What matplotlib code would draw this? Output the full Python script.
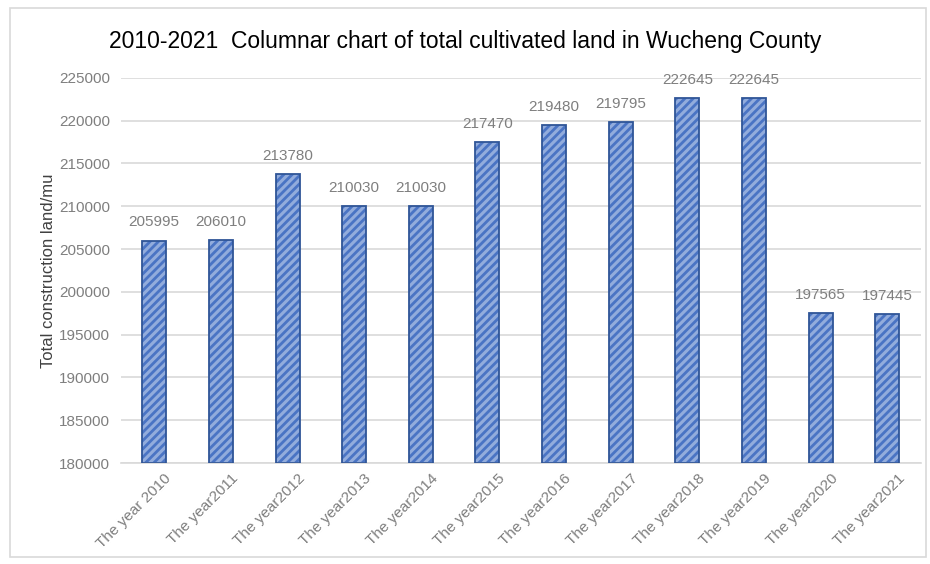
import matplotlib.pyplot as plt
from matplotlib.patches import Rectangle
from matplotlib.transforms import ScaledTranslation

years = ["The year 2010", "The year2011", "The year2012", "The year2013",
         "The year2014", "The year2015", "The year2016", "The year2017",
         "The year2018", "The year2019", "The year2020", "The year2021"]
land = [205995, 206010, 213780, 210030, 210030, 217470,
        219480, 219795, 222645, 222645, 197565, 197445]
yticks = list(range(180000, 225001, 5000))

plt.rcParams["font.family"] = ["Liberation Sans", "DejaVu Sans"]
plt.rcParams["hatch.linewidth"] = 2.0

fig = plt.figure(figsize=(9.3, 5.64), dpi=100)
ax = fig.add_axes([0.130, 0.179, 0.860, 0.683])

# outer chart border
fig.patches.append(Rectangle((0.011, 0.012), 0.985, 0.974, transform=fig.transFigure,
                             fill=False, edgecolor="#d9d9d9", linewidth=1.2))

x = list(range(len(years)))
# hatched fill (stripe colour via edgecolor), then outline on top
ax.bar(x, [v - 180000 for v in land], bottom=180000, width=0.36,
       color="#92acdc", edgecolor="#4a74c4", hatch="////", linewidth=0, zorder=2)
ax.bar(x, [v - 180000 for v in land], bottom=180000, width=0.36,
       fill=False, edgecolor="#2f5597", linewidth=1.3, zorder=3)

for xi, v in zip(x, land):
    ax.text(xi, v + 1300, str(v), ha="center", va="bottom", fontsize=11, color="#7f7f7f")

ax.set_xlim(-0.5, len(years) - 0.5)
ax.set_ylim(180000, 225000)
ax.set_yticks(yticks)
ax.set_yticklabels([str(t) for t in yticks], fontsize=11, color="#7f7f7f")
ax.set_xticks(x)
ax.set_xticklabels(years, rotation=45, ha="right", rotation_mode="anchor",
                   fontsize=11, color="#7f7f7f")
ax.tick_params(length=0, pad=8)
ax.tick_params(axis="x", pad=6)
# nudge the rotated category labels to the right, as in the original
shift = ScaledTranslation(10 / 100, 0, fig.dpi_scale_trans)
for lbl in ax.get_xticklabels():
    lbl.set_transform(lbl.get_transform() + shift)
ax.grid(axis="y", color="#d9d9d9", linewidth=1.2, zorder=0)
ax.set_axisbelow(True)
for s in ["top", "right", "left"]:
    ax.spines[s].set_visible(False)
ax.spines["bottom"].set_color("#d9d9d9")
ax.spines["bottom"].set_linewidth(1.2)

ax.set_ylabel("Total construction land/mu", fontsize=12, color="#404040", labelpad=2)
fig.text(0.5, 0.927, "2010-2021  Columnar chart of total cultivated land in Wucheng County",
         ha="center", va="center", fontsize=16.5, color="#000000")

fig.savefig("out.png", dpi=100, facecolor="white")
